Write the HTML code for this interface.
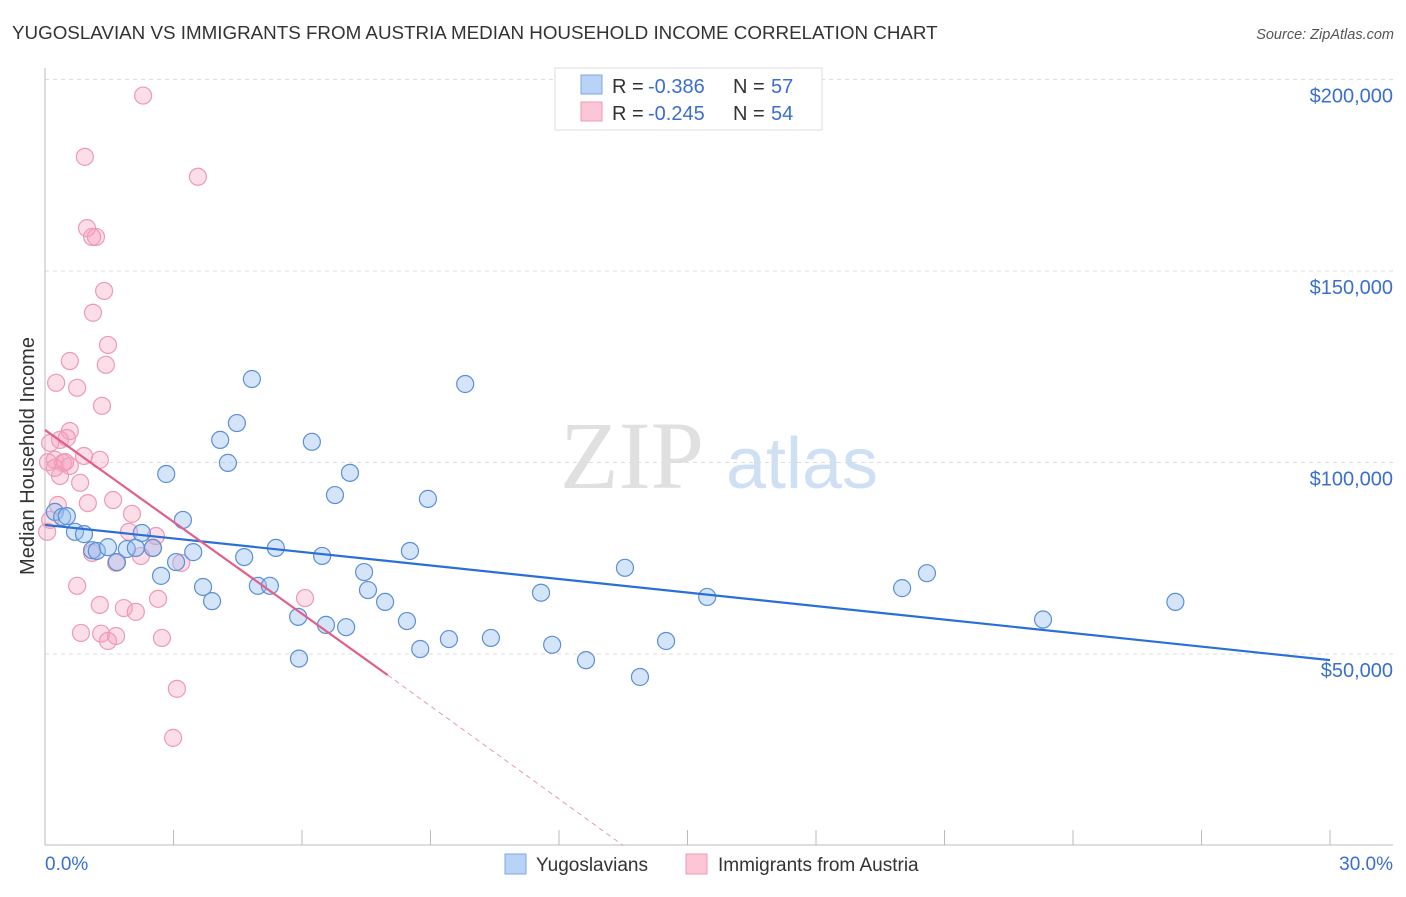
<!DOCTYPE html>
<html><head><meta charset="utf-8"><style>
body{margin:0;background:#fff;font-family:"Liberation Sans",sans-serif}
</style></head><body>
<svg id="chart" width="1406" height="892" xmlns="http://www.w3.org/2000/svg" font-family="Liberation Sans, sans-serif">
<text x="12" y="39" font-size="18.8" fill="#333">YUGOSLAVIAN VS IMMIGRANTS FROM AUSTRIA MEDIAN HOUSEHOLD INCOME CORRELATION CHART</text>
<text x="1394" y="39" font-size="14.5" fill="#555" text-anchor="end" font-style="italic">Source: ZipAtlas.com</text>
<g>
<text x="632" y="488" font-size="96" fill="#e0e0e0" font-family="Liberation Serif, serif" text-anchor="middle">ZIP</text>
<text x="802" y="488" font-size="72" fill="#cfe0f5" text-anchor="middle">atlas</text>
</g>
<g id="grid"></g>
<g id="axes"></g>
<g id="marks"></g>
<text transform="translate(34,456) rotate(-90)" font-size="20" fill="#333" text-anchor="middle">Median Household Income</text>
<g>
<rect x="555" y="68" width="267" height="62" fill="#fff" stroke="#ddd"/>
<rect x="581" y="75" width="21" height="19" fill="#b8d3f5" stroke="#7aa8e6"/>
<rect x="581" y="102" width="21" height="19" fill="#fcc6d6" stroke="#ee9ab4"/>
<text x="612" y="93" font-size="20" fill="#333">R =</text>
<text x="648" y="93" font-size="20" fill="#3a6fd0">-0.386</text>
<text x="733" y="93" font-size="20" fill="#333">N =</text>
<text x="771" y="93" font-size="20" fill="#3a6fd0">57</text>
<text x="612" y="120" font-size="20" fill="#333">R =</text>
<text x="648" y="120" font-size="20" fill="#3a6fd0">-0.245</text>
<text x="733" y="120" font-size="20" fill="#333">N =</text>
<text x="771" y="120" font-size="20" fill="#3a6fd0">54</text>
</g>
<g>
<rect x="505" y="854" width="21" height="20" fill="#b8d3f5" stroke="#7aa8e6"/>
<text x="536" y="871" font-size="19" fill="#333">Yugoslavians</text>
<rect x="686" y="854" width="21" height="20" fill="#fcc6d6" stroke="#ee9ab4"/>
<text x="718" y="871" font-size="19" fill="#333">Immigrants from Austria</text>
</g>
</svg>
<script>
const yTicks=[50000,100000,150000,200000];
const yTickLabels=["$50,000","$100,000","$150,000","$200,000"];
const xTickCount=10;
const blueX=[.23,.40,.51,.70,.91,1.10,1.21,1.47,1.68,1.91,2.12,2.26,2.52,2.71,2.83,3.06,3.22,3.46,3.69,3.90,4.09,4.27,4.48,4.65,4.83,4.97,5.25,5.39,5.91,5.93,6.23,6.47,6.56,6.77,7.03,7.12,7.45,7.54,7.94,8.45,8.52,8.76,8.94,9.43,9.81,10.41,11.58,11.84,12.63,13.54,13.89,14.50,15.46,20.01,20.59,23.30,26.39];
const blueY=[87.1,85.8,86.0,81.9,81.3,77.1,76.9,77.9,74.0,77.4,77.7,81.6,77.7,70.4,97.0,74.0,85.0,76.6,67.5,63.8,105.9,99.9,110.3,75.3,121.8,67.8,67.8,77.7,59.7,48.8,105.4,75.6,57.6,91.5,57.0,97.3,71.4,66.7,63.6,58.6,76.9,51.3,90.5,53.9,120.5,54.2,66.0,52.4,48.4,72.5,44.0,53.4,64.9,67.2,71.1,59.0,63.6];
const pinkX=[2.29,.93,3.57,.98,1.19,1.10,1.38,1.12,1.47,.58,.26,.75,1.42,1.33,.58,.35,.51,.12,.23,.42,.58,.91,.35,.82,.30,1.00,1.59,2.03,1.96,2.59,2.52,2.24,1.66,3.18,.12,.05,1.10,.75,1.28,1.84,2.12,2.64,.84,1.31,1.47,1.66,2.73,3.08,2.99,6.07,.23,.07,.47,1.28];
const pinkY=[195.8,179.8,174.6,161.2,158.9,158.9,144.8,139.1,130.7,126.5,120.8,119.5,125.5,114.8,108.2,105.9,106.4,105.1,100.7,99.9,99.1,101.7,96.5,94.7,88.9,89.4,90.2,86.6,81.9,80.8,77.7,75.6,73.8,73.8,85.0,81.9,76.4,67.8,62.8,62.0,61.0,64.4,55.5,55.3,53.4,54.7,54.2,40.9,28.1,64.6,98.6,100.1,100.1,100.7];
const blueTrend=[83.7,48.4];
const pinkTrend=[108.5,44.5,8.0,13.5];
const NS="http://www.w3.org/2000/svg";
const X=v=>45+v/30*1285;
const Y=k=>845.5-k*1000/50000*191.5;
function mk(p,t,a){const e=document.createElementNS(NS,t);for(const k in a)e.setAttribute(k,a[k]);p.appendChild(e);return e;}
const grid=document.getElementById('grid'),axes=document.getElementById('axes'),marks=document.getElementById('marks');
yTicks.forEach((v,i)=>{
 const l=mk(grid,'line',{x1:45,x2:1393,y1:Y(v/1000),y2:Y(v/1000),stroke:'#ddd','stroke-dasharray':'4,4'});
 
 
 const t=mk(axes,'text',{x:1393,y:Y(v/1000)+23,'font-size':20,fill:'#3a6fd0','text-anchor':'end'});
 t.textContent=yTickLabels[i];
 
 
});
const la=mk(axes,'line',{x1:45,x2:45,y1:68,y2:845,stroke:'#bbb'});


const ba=mk(axes,'line',{x1:45,x2:1393,y1:845,y2:845,stroke:'#bbb'});


for(let i=0;i<=xTickCount;i++){
 const tk=mk(axes,'line',{x1:X(i*3),x2:X(i*3),y1:830,y2:845,stroke:'#bbb'});
 
 
}
const x0=mk(axes,'text',{x:45,y:870,'font-size':19,fill:'#3a6fd0'});x0.textContent='0.0%';


const x1=mk(axes,'text',{x:1393,y:870,'font-size':19,fill:'#3a6fd0','text-anchor':'end'});x1.textContent='30.0%';


pinkX.forEach((v,i)=>{
 const c=mk(marks,'circle',{cx:X(v),cy:Y(pinkY[i]),r:8.5,fill:'rgba(245,160,190,0.35)',stroke:'#ee9ab4','stroke-width':1.2});
 
 
});
blueX.forEach((v,i)=>{
 const c=mk(marks,'circle',{cx:X(v),cy:Y(blueY[i]),r:8.5,fill:'rgba(150,190,240,0.4)',stroke:'#5b8fd6','stroke-width':1.2});
 
 
});
const bt=mk(marks,'line',{x1:X(0),y1:Y(blueTrend[0]),x2:X(30),y2:Y(blueTrend[1]),stroke:'#2a6fd6','stroke-width':2.2});


const pt=mk(marks,'line',{x1:X(0),y1:Y(pinkTrend[0]),x2:X(pinkTrend[2]),y2:Y(pinkTrend[1]),stroke:'#e0608a','stroke-width':2.2});


const pd=mk(marks,'line',{x1:X(pinkTrend[2]),y1:Y(pinkTrend[1]),x2:X(pinkTrend[3]),y2:Y(0),stroke:'#e89ab2','stroke-width':1,'stroke-dasharray':'5,4'});


</script>
</body></html>
